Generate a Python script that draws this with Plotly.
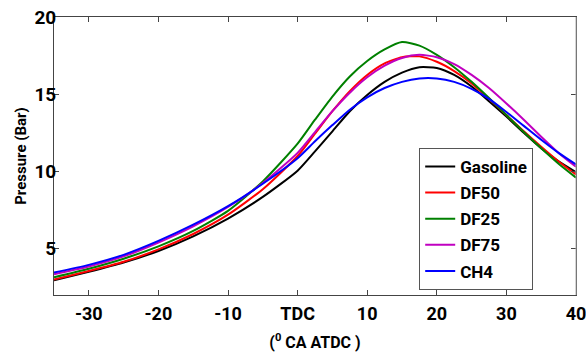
import plotly.graph_objects as go

# Crank angle (deg ATDC)
crank_angle = [-35, -30, -25, -20, -15, -10, -5, 0, 2.5, 5, 7.5, 10, 12.5, 15, 17.5,
               20, 22.5, 25, 27.5, 30, 32.5, 35, 37.5, 40]

gasoline = [2.95, 3.5, 4.1, 4.85, 5.8, 6.95, 8.35, 10.05, 11.3, 12.6, 13.9, 14.95, 15.8,
            16.4, 16.75, 16.7, 16.25, 15.5, 14.55, 13.55, 12.5, 11.5, 10.65, 9.95]
df50 = [3.0, 3.55, 4.15, 4.95, 5.95, 7.2, 8.85, 11.0, 12.45, 13.9, 15.2, 16.25, 17.0,
        17.4, 17.45, 17.1, 16.5, 15.7, 14.7, 13.65, 12.6, 11.6, 10.65, 9.8]
df25 = [3.15, 3.7, 4.35, 5.15, 6.15, 7.45, 9.35, 11.8, 13.35, 14.85, 16.15, 17.15, 17.9,
        18.38, 18.15, 17.55, 16.75, 15.8, 14.75, 13.65, 12.55, 11.5, 10.5, 9.6]
df75 = [3.35, 3.85, 4.5, 5.4, 6.45, 7.7, 9.25, 11.2, 12.55, 13.9, 15.1, 16.1, 16.85,
        17.35, 17.55, 17.4, 16.95, 16.25, 15.4, 14.4, 13.35, 12.25, 11.2, 10.3]
ch4 = [3.45, 3.95, 4.6, 5.5, 6.55, 7.75, 9.2, 10.85, 11.95, 13.0, 14.0, 14.8, 15.4,
       15.8, 16.02, 16.02, 15.8, 15.35, 14.7, 13.85, 12.95, 12.05, 11.2, 10.45]

series_names = ["Gasoline", "DF50", "DF25", "DF75", "CH4"]
series_values = [gasoline, df50, df25, df75, ch4]
series_colors = ["#000000", "#ff0000", "#008000", "#c000c0", "#0000ff"]

x_tick_vals = [-30, -20, -10, 0, 10, 20, 30, 40]
x_tick_text = ["-30", "-20", "-10", "TDC", "10", "20", "30", "40"]
y_tick_vals = [5, 10, 15, 20]

FONT = "Roboto, sans-serif"

fig = go.Figure()
for name, vals, col in zip(series_names, series_values, series_colors):
    fig.add_trace(go.Scatter(x=crank_angle, y=vals, name=name, mode="lines",
                             legendgroup=name,
                             line=dict(color=col, width=2, shape="spline", smoothing=0.6)))

fig.update_layout(
    width=586, height=352,
    margin=dict(l=54, r=10, t=17, b=57),
    paper_bgcolor="white", plot_bgcolor="white",
    showlegend=True,
    legend=dict(x=0.918, xanchor="right", y=0.529, yanchor="top",
                bgcolor="white", bordercolor="#555555", borderwidth=1,
                font=dict(family=FONT, size=17, color="black", weight="bold"),
                traceorder="grouped", tracegroupgap=1),
)
fig.update_xaxes(range=[-35, 40], tickvals=x_tick_vals, ticktext=x_tick_text,
                 ticks="inside", ticklen=5, tickcolor="#444444", automargin=False,
                 showline=True, linecolor="#444444", linewidth=1, mirror="ticks",
                 showgrid=False, zeroline=False, ticklabelstandoff=2,
                 ticklabeloverflow="allow",
                 tickfont=dict(family=FONT, size=18, color="black", weight="bold"),
                 title=dict(text="(<sup>0</sup> CA ATDC )",
                            font=dict(family=FONT, size=16, color="black", weight="bold")))
fig.update_yaxes(range=[2, 20], tickvals=y_tick_vals,
                 ticks="inside", ticklen=5, tickcolor="#444444", automargin=False,
                 showline=True, linecolor="#444444", linewidth=1, mirror="ticks",
                 showgrid=False, zeroline=False, ticklabelstandoff=-7,
                 ticklabeloverflow="allow",
                 tickfont=dict(family=FONT, size=19, color="black", weight="bold"),
                 title=dict(text="Pressure (Bar)", standoff=4,
                            font=dict(family=FONT, size=15, color="black", weight="bold")))
fig.add_shape(type="line", xref="paper", yref="paper", x0=1, x1=1, y0=0, y1=1,
              line=dict(color="#aaaaaa", width=1))

fig.write_html("out.html", config={"displayModeBar": False},
               post_script="document.body.style.margin='0';document.body.style.overflow='hidden';")
